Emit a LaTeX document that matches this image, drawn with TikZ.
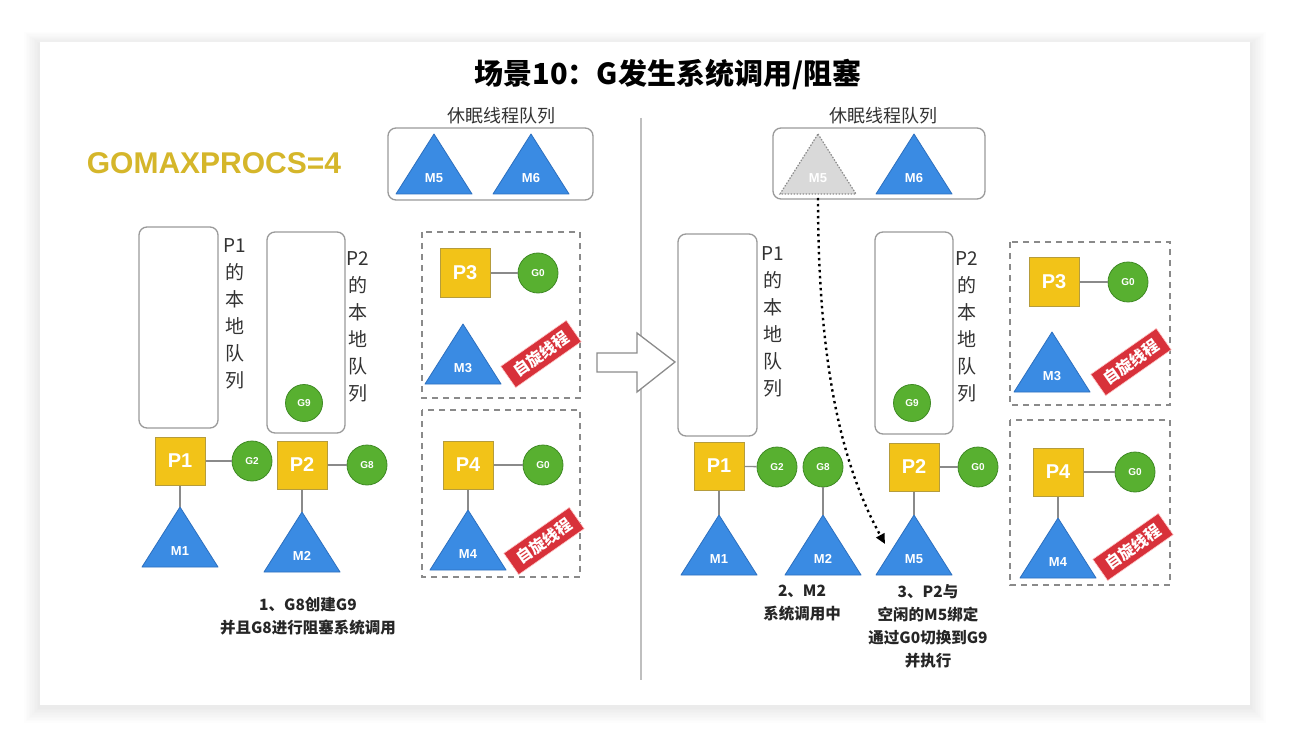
\documentclass[tikz,border=0pt]{standalone}
\usepackage{fontspec}
\setmainfont{Noto Sans CJK SC}
\newfontfamily\hel{Liberation Sans}
\usetikzlibrary{arrows.meta}
\definecolor{pyel}{HTML}{F2C318}
\definecolor{pyelb}{HTML}{B59C3C}
\definecolor{ggrn}{HTML}{58B030}
\definecolor{ggrnb}{HTML}{3F8A24}
\definecolor{mblu}{HTML}{3A8BE3}
\definecolor{mblub}{HTML}{2C6FBF}
\definecolor{tred}{HTML}{D8313A}
\definecolor{gmx}{HTML}{D5B62A}
\definecolor{lgray}{HTML}{9A9A9A}
\definecolor{dgray}{HTML}{8A8A8A}
\newcommand{\fsz}[1]{\fontsize{#1pt}{#1pt}\selectfont}
\newcommand{\mtri}[5]{%
  \coordinate (#2) at (#3,#4);
  \path[#1] (#2) -- ++(38,60) -- ++(-76,0) -- cycle;
  \node[mlab] (#2t) at ([yshift=-44pt]#2) {#5};
}
\tikzset{
  pbox/.style={draw=pyelb, fill=pyel, minimum width=50pt, minimum height=48pt, inner sep=0pt, font=\hel\bfseries\fsz{20}, text=white, line width=1pt},
  gcirc/.style={circle, draw=ggrnb, fill=ggrn, minimum size=40pt, inner sep=0pt, font=\hel\bfseries\fsz{10}, text=white, line width=0.8pt},
  qbox/.style={draw=lgray, rounded corners=8pt, line width=1.3pt},
  dbox/.style={draw=dgray, dash pattern=on 6pt off 5pt, line width=1.3pt},
  tag/.style={fill=tred, draw=red!20, line width=0.6pt, text=white, font=\bfseries\fsz{16}, minimum width=80pt, minimum height=26pt, inner sep=0pt, rotate=35},
  conn/.style={draw=dgray, line width=1.3pt},
  vlab/.style={align=center, font=\fontsize{19pt}{27pt}\selectfont, text=black!80},
  mlab/.style={text=white, font=\hel\bfseries\fsz{13}},
  tri/.style={fill=mblu, draw=mblub, line width=0.8pt, line join=round},
  gtri/.style={fill=black!15, draw=black!45, dash pattern=on 1.5pt off 1.5pt, line width=1.2pt},
  note/.style={align=center, font=\bfseries\fontsize{15.5pt}{23pt}\selectfont, text=black!85},
  qlab/.style={font=\fsz{18}, text=black!80},
}
\begin{document}
\begin{tikzpicture}[x=1pt,y=-1pt]
\useasboundingbox (0,0) rectangle (1296,746);
\fill[white] (0,0) rectangle (1296,746);
\foreach \i in {1,...,10} {
  \fill[black, opacity=0.006] (40-\i*1.6,42-\i*1.2+2) rectangle (1250+\i*1.6,705+\i*1.6+2);
}
\fill[white] (40,42) rectangle (1250,705);

% title
\node[font=\bfseries\fsz{29}] (title) at (668,75) {场景10：G发生系统调用/阻塞};
% divider
\draw[draw=black!25, line width=1.2pt] (641,118) -- (641,680);

% GOMAXPROCS
\node[font=\hel\bfseries\fsz{30}, text=gmx] (gmp) at (214,163) {GOMAXPROCS=4};

% ---------------- left ----------------
\node[qlab] (sleepL) at (501,116) {休眠线程队列};
\draw[qbox] (388,128) rectangle (593,200);
\mtri{tri}{lm5}{434}{134}{M5}
\mtri{tri}{lm6}{531}{134}{M6}

\draw[qbox] (139,227) rectangle (218,428);
\node[vlab] (lq1) at (235,314) {P1\\的\\本\\地\\队\\列};
\draw[qbox] (267,232) rectangle (345,433);
\node[vlab] (lq2) at (358,327) {P2\\的\\本\\地\\队\\列};
\node[gcirc, minimum size=37pt] (lg9) at (304,403) {G9};

\node[pbox] (lp1) at (180,461) {P1};
\node[gcirc] (lg2) at (252,461) {G2};
\mtri{tri}{lm1}{180}{507}{M1}
\draw[conn] (lp1) -- (lg2);
\draw[conn] (lp1) -- (lm1);

\node[pbox] (lp2) at (302,465) {P2};
\node[gcirc] (lg8) at (367,465) {G8};
\mtri{tri}{lm2}{302}{512}{M2}
\draw[conn] (lp2) -- (lg8);
\draw[conn] (lp2) -- (lm2);

\draw[dbox] (422,232) rectangle (580,398);
\node[pbox] (lp3) at (465,273) {P3};
\node[gcirc] (lg0a) at (538,273) {G0};
\draw[conn] (lp3) -- (lg0a);
\mtri{tri}{lm3}{463}{324}{M3}
\node[tag] (ltag1) at (541,354) {自旋线程};

\draw[dbox] (422,410) rectangle (580,577);
\node[pbox] (lp4) at (468,465) {P4};
\node[gcirc] (lg0b) at (543,465) {G0};
\draw[conn] (lp4) -- (lg0b);
\mtri{tri}{lm4}{468}{510}{M4}
\draw[conn] (lp4) -- (lm4);
\node[tag] (ltag2) at (544,541) {自旋线程};

\node[note] (n1) at (308,616) {1、G8创建G9\\并且G8进行阻塞系统调用};

% big hollow arrow
\draw[draw=black!45, fill=white, line width=1.3pt, line join=miter]
  (597,353) -- (637,353) -- (637,333) -- (675,362) -- (637,392) -- (637,372) -- (597,372) -- cycle;

% ---------------- right ----------------
\node[qlab] (sleepR) at (883,116) {休眠线程队列};
\draw[qbox] (773,128) rectangle (985,199);
\mtri{gtri}{rm5g}{818}{134}{M5}
\mtri{tri}{rm6}{914}{134}{M6}

\draw[qbox] (678,234) rectangle (757,436);
\node[vlab] (rq1) at (773,322) {P1\\的\\本\\地\\队\\列};
\draw[qbox] (875,232) rectangle (953,434);
\node[vlab] (rq2) at (967,327) {P2\\的\\本\\地\\队\\列};
\node[gcirc, minimum size=37pt] (rg9) at (912,403) {G9};

\node[pbox] (rp1) at (719,466) {P1};
\node[gcirc] (rg2) at (777,467) {G2};
\node[gcirc] (rg8) at (823,467) {G8};
\mtri{tri}{rm1}{719}{515}{M1}
\mtri{tri}{rm2}{823}{515}{M2}
\draw[conn] (rp1) -- (rg2);
\draw[conn] (rp1) -- (rm1);
\draw[conn] (rg8) -- (rm2);

\node[pbox] (rp2) at (914,467) {P2};
\node[gcirc] (rg0) at (978,467) {G0};
\mtri{tri}{rm5}{914}{515}{M5}
\draw[conn] (rp2) -- (rg0);
\draw[conn] (rp2) -- (rm5);

\draw[dbox] (1010,242) rectangle (1170,405);
\node[pbox] (rp3) at (1054,282) {P3};
\node[gcirc] (rg0a) at (1128,282) {G0};
\draw[conn] (rp3) -- (rg0a);
\mtri{tri}{rm3}{1052}{332}{M3}
\node[tag] (rtag1) at (1131,362) {自旋线程};

\draw[dbox] (1010,420) rectangle (1170,585);
\node[pbox] (rp4) at (1058,472) {P4};
\node[gcirc] (rg0b) at (1135,472) {G0};
\draw[conn] (rp4) -- (rg0b);
\mtri{tri}{rm4}{1058}{518}{M4}
\draw[conn] (rp4) -- (rm4);
\node[tag] (rtag2) at (1133,547) {自旋线程};

% dotted arrow from sleeping M5 to new M5
\coordinate (arrS) at (818,198);
\coordinate (arrE) at (885,544);
\draw[black, line width=2.4pt, dash pattern=on 2.4pt off 3.6pt, -{Triangle[length=10pt,width=9pt]}]
  (arrS) .. controls (818,390) and (850,480) .. (arrE);

\node[note] (n2) at (802,603) {2、M2\\系统调用中};
\node[note] (n3) at (928,626) {3、P2与\\空闲的M5绑定\\通过G0切换到G9\\并执行};
\end{tikzpicture}
\end{document}
